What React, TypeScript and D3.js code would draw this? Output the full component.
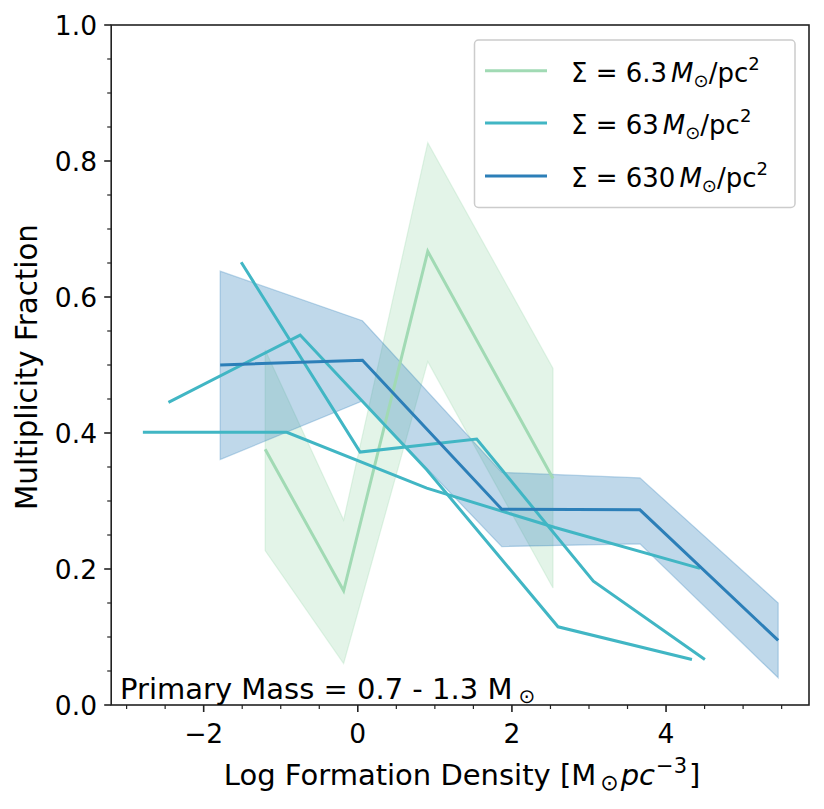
import React from "react";
import * as d3 from "d3";

// Sigma = 6.3 Msun/pc^2 (with band)
const x6 = [-1.202, -0.184, 0.908, 2.533];
const y6 = [0.376, 0.168, 0.667, 0.333];
const lo6 = [0.227, 0.061, 0.505, 0.172];
const hi6 = [0.522, 0.272, 0.827, 0.495];

// Sigma = 630 Msun/pc^2 (with band)
const x630 = [-1.786, 0.06, 1.868, 3.661, 5.455];
const y630 = [0.5, 0.507, 0.288, 0.287, 0.095];
const lo630 = [0.361, 0.447, 0.233, 0.237, 0.04];
const hi630 = [0.638, 0.565, 0.342, 0.334, 0.15];

// Sigma = 63 Msun/pc^2 (three runs, no band)
const x63a = [-2.789, -0.921, 0.895, 2.559, 4.44];
const y63a = [0.401, 0.401, 0.319, 0.261, 0.201];
const x63b = [-2.457, -0.748, 0.895, 2.598, 4.336];
const y63b = [0.445, 0.544, 0.346, 0.115, 0.067];
const x63c = [-1.513, 0.03, 1.543, 3.057, 4.504];
const y63c = [0.651, 0.372, 0.391, 0.182, 0.067];

const xMajor = [-2, 0, 2, 4];
const xMajorLabels = ["\u22122", "0", "2", "4"];
const yMajor = [0, 0.2, 0.4, 0.6, 0.8, 1.0];
const yMajorLabels = ["0.0", "0.2", "0.4", "0.6", "0.8", "1.0"];

const legendLabels = ["6.3", "63", "630"];

const C6 = "#a1dab4";
const C63 = "#41b6c4";
const C630 = "#2c7fb8";
const FONT = "'DejaVu Sans', sans-serif";

export default function App() {
  const L = 111.2, R = 809, T = 25, B = 705;
  const x = d3.scaleLinear().domain([-3.2, 5.855]).range([L, R]);
  const y = d3.scaleLinear().domain([0, 1]).range([B, T]);

  const line = d3
    .line<[number, number]>()
    .x((d) => x(d[0]))
    .y((d) => y(d[1]));
  const area = d3
    .area<[number, number, number]>()
    .x((d) => x(d[0]))
    .y0((d) => y(d[1]))
    .y1((d) => y(d[2]));

  const zip2 = (a: number[], b: number[]) => a.map((v, i) => [v, b[i]] as [number, number]);
  const zip3 = (a: number[], b: number[], c: number[]) =>
    a.map((v, i) => [v, b[i], c[i]] as [number, number, number]);

  const xMinor = d3.range(-3, 5.51, 0.5).filter((v) => !xMajor.some((m) => Math.abs(m - v) < 1e-6));
  const yMinor = d3.range(0, 1.001, 0.05).filter((v) => !yMajor.some((m) => Math.abs(m - v) < 1e-6));

  const legendColors = [C6, C63, C630];
  const legendY = [70.7, 123, 176];

  return (
    <svg
      width={824}
      height={809}
      style={{ position: "absolute", left: 0, top: 0, background: "#fff" }}
      fontFamily={FONT}
    >
      <rect x={0} y={0} width={824} height={809} fill="#fff" />
      {/* bands */}
      <path
        d={area(zip3(x6, lo6, hi6)) || ""}
        fill={C6}
        fillOpacity={0.3}
        stroke={C6}
        strokeOpacity={0.3}
        strokeWidth={1.2}
      />
      <path
        d={area(zip3(x630, lo630, hi630)) || ""}
        fill={C630}
        fillOpacity={0.3}
        stroke={C630}
        strokeOpacity={0.3}
        strokeWidth={1.2}
      />
      {/* lines */}
      <path d={line(zip2(x6, y6)) || ""} fill="none" stroke={C6} strokeWidth={3} />
      <path d={line(zip2(x63a, y63a)) || ""} fill="none" stroke={C63} strokeWidth={3} />
      <path d={line(zip2(x63b, y63b)) || ""} fill="none" stroke={C63} strokeWidth={3} />
      <path d={line(zip2(x63c, y63c)) || ""} fill="none" stroke={C63} strokeWidth={3} />
      <path d={line(zip2(x630, y630)) || ""} fill="none" stroke={C630} strokeWidth={3} />

      {/* spines */}
      <rect x={L} y={T} width={R - L} height={B - T} fill="none" stroke="#222" strokeWidth={1.6} />

      {/* x ticks */}
      {xMajor.map((v, i) => (
        <g key={"xm" + i}>
          <line x1={x(v)} x2={x(v)} y1={B} y2={B + 7} stroke="#222" strokeWidth={1.6} />
          <text x={x(v)} y={743} fontSize={26.5} textAnchor="middle" fill="#000">
            {xMajorLabels[i]}
          </text>
        </g>
      ))}
      {xMinor.map((v, i) => (
        <line key={"xn" + i} x1={x(v)} x2={x(v)} y1={B} y2={B + 4} stroke="#222" strokeWidth={1.2} />
      ))}
      {/* y ticks */}
      {yMajor.map((v, i) => (
        <g key={"ym" + i}>
          <line x1={L - 7} x2={L} y1={y(v)} y2={y(v)} stroke="#222" strokeWidth={1.6} />
          <text x={97} y={y(v) + 9.7} fontSize={26.5} textAnchor="end" fill="#000">
            {yMajorLabels[i]}
          </text>
        </g>
      ))}
      {yMinor.map((v, i) => (
        <line key={"yn" + i} x1={L - 4} x2={L} y1={y(v)} y2={y(v)} stroke="#222" strokeWidth={1.2} />
      ))}

      {/* axis labels */}
      <text
        transform={`translate(37, ${(T + B) / 2 + 2}) rotate(-90)`}
        fontSize={29.3}
        textAnchor="middle"
        fill="#000"
      >
        Multiplicity Fraction
      </text>
      <text x={(L + R) / 2 + 2} y={785} fontSize={29} textAnchor="middle" fill="#000">
        Log Formation Density [M
        <tspan dx={4} fontSize={22} dy={5}>{"\u2299"}</tspan>
        <tspan dx={2} dy={-5} fontStyle="italic">pc</tspan>
        <tspan dx={1} fontSize={21} dy={-12}>{"\u22123"}</tspan>
        <tspan dx={2} dy={12}>]</tspan>
      </text>

      {/* annotation */}
      <text x={120} y={699} fontSize={29} fill="#000">
        Primary Mass = 0.7 - 1.3 M
        <tspan dx={6} fontSize={20} dy={4}>{"\u2299"}</tspan>
      </text>

      {/* legend */}
      <rect
        x={474.5}
        y={40}
        width={320.5}
        height={167.5}
        rx={4}
        fill="#fff"
        fillOpacity={0.8}
        stroke="#cccccc"
        strokeWidth={1.5}
      />
      {legendLabels.map((lab, i) => (
        <g key={"lg" + i}>
          <line x1={485} x2={547} y1={legendY[i]} y2={legendY[i]} stroke={legendColors[i]} strokeWidth={3} />
          <text x={571} y={legendY[i] + 11} fontSize={26} fill="#000">
            {"\u03A3 = " + lab}
            <tspan dx={4} fontStyle="italic">M</tspan>
            <tspan fontSize={18} dy={5}>{"\u2299"}</tspan>
            <tspan dy={-5}>/pc</tspan>
            <tspan fontSize={18} dy={-12}>2</tspan>
          </text>
        </g>
      ))}
    </svg>
  );
}
